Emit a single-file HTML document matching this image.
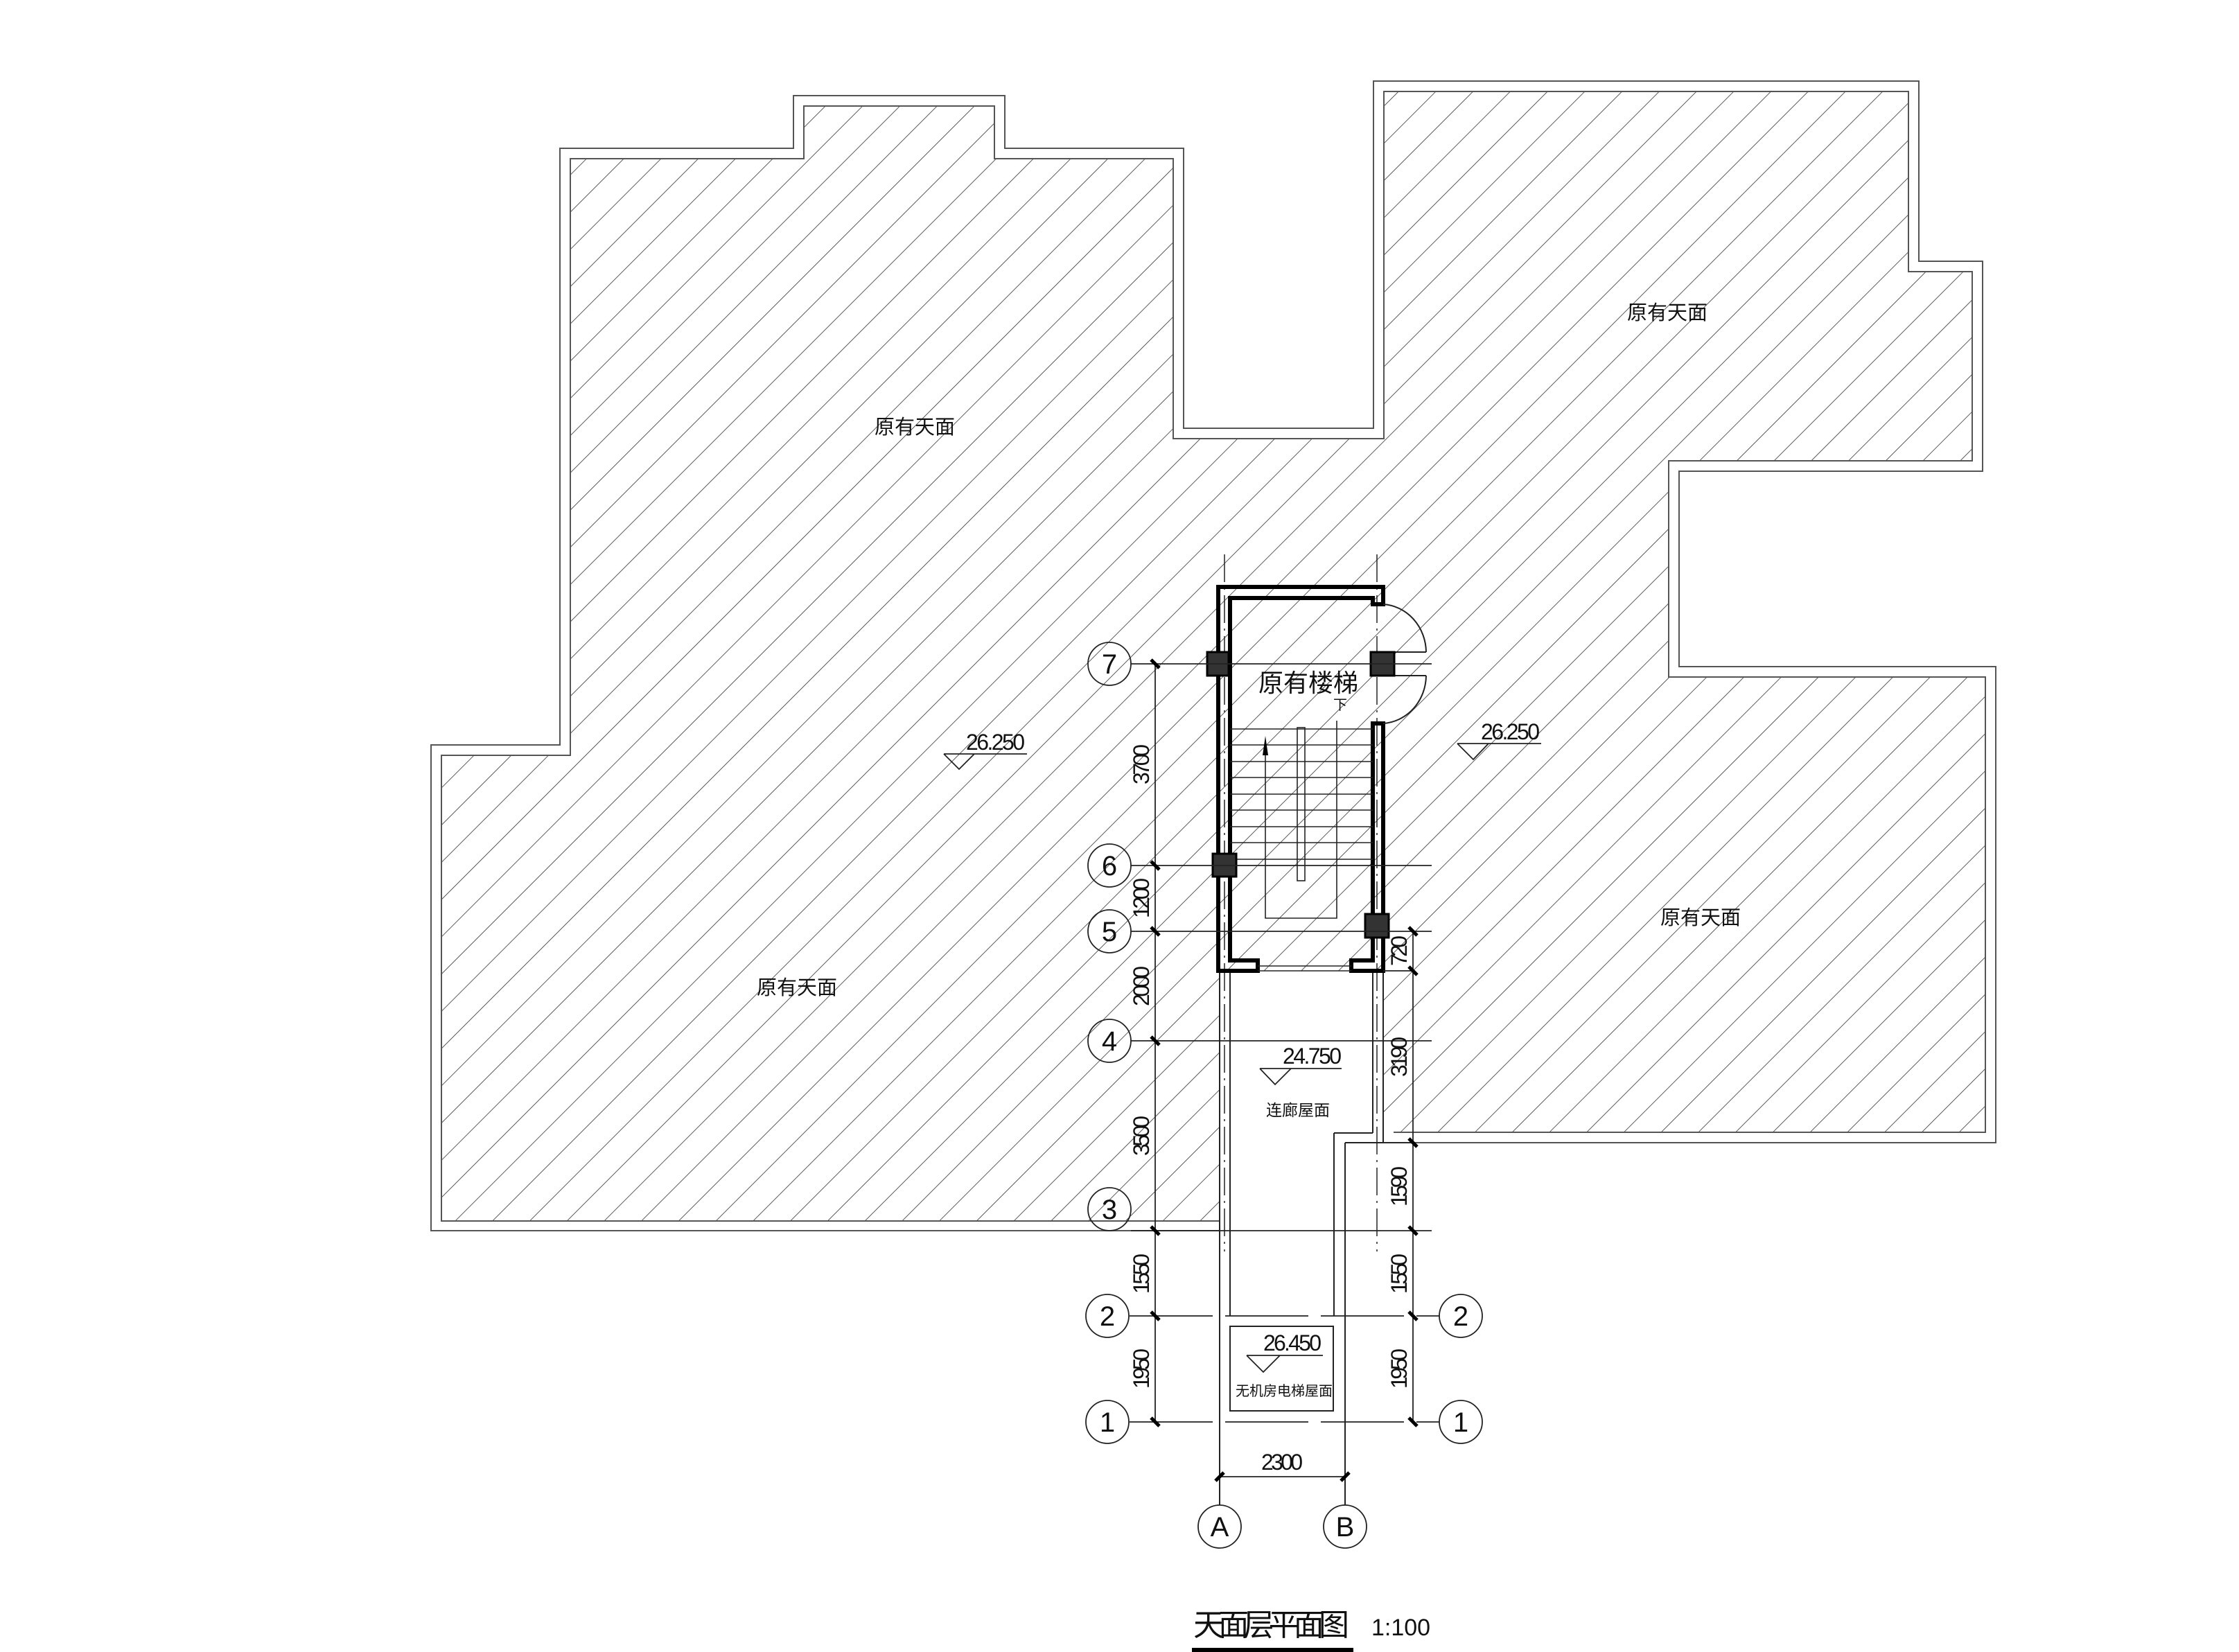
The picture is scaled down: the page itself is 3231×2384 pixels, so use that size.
<!DOCTYPE html>
<html><head><meta charset="utf-8"><style>
html,body{margin:0;padding:0;background:#fff}
svg{display:block}
text{font-family:"Liberation Sans","Noto Sans CJK SC",sans-serif;fill:#111}
</style></head><body>
<svg width="3231" height="2384" viewBox="0 0 3231 2384" xmlns="http://www.w3.org/2000/svg">
<defs>
<pattern id="h" patternUnits="userSpaceOnUse" width="38" height="38" patternTransform="rotate(45)">
<line x1="0" y1="0" x2="0" y2="38" stroke="#333" stroke-width="1.6"/>
</pattern>
<clipPath id="cp"><path d="M637,1762 L637,1090 L823,1090 L823,229 L1160,229 L1160,153 L1435,153 L1435,229 L1693,229 L1693,633 L1997,633 L1997,132 L2754,132 L2754,392 L2846,392 L2846,665 L2408,665 L2408,977 L2865,977 L2865,1634 L1996,1634 L1996,1401 L1760,1401 L1760,1762 Z"/></clipPath>
</defs>
<rect width="3231" height="2384" fill="#fff"/>
<rect x="600" y="100" width="2300" height="1700" fill="url(#h)" clip-path="url(#cp)"/>
<g fill="none" stroke="#555" stroke-width="2">
<path d="M1760,1776 L622,1776 L622,1075 L808,1075 L808,214 L1145,214 L1145,138 L1450,138 L1450,214 L1708,214 L1708,618 L1982,618 L1982,117 L2769,117 L2769,377 L2861,377 L2861,680 L2423,680 L2423,962 L2880,962 L2880,1649 L1996,1649"/>
<path d="M1760,1762 L637,1762 L637,1090 L823,1090 L823,229 L1160,229 L1160,153 L1435,153 L1435,229 L1693,229 L1693,633 L1997,633 L1997,132 L2754,132 L2754,392 L2846,392 L2846,665 L2408,665 L2408,977 L2865,977 L2865,1634 L2011,1634"/>
</g>
<g stroke="#222" stroke-width="2" fill="none">
<line x1="1760" y1="1401" x2="1760" y2="2172"/>
<line x1="1775" y1="1401" x2="1775" y2="1899"/>
<line x1="1981" y1="1401" x2="1981" y2="1635"/>
<line x1="1996" y1="1401" x2="1996" y2="1649"/>
<line x1="1925" y1="1635" x2="1981" y2="1635"/>
<line x1="1941" y1="1649" x2="1996" y2="1649"/>
<line x1="1925" y1="1635" x2="1925" y2="1899"/>
<line x1="1941" y1="1649" x2="1941" y2="2172"/>
<line x1="1767" y1="800" x2="1767" y2="1806" stroke-dasharray="40,8,3,8" stroke-width="1.5"/>
<line x1="1987" y1="800" x2="1987" y2="1806" stroke-dasharray="40,8,3,8" stroke-width="1.5"/>
<rect x="1775" y="1914" width="149" height="122"/>
</g>
<g fill="none" stroke="#000" stroke-width="6">
<path d="M1996,872 L1996,847 L1758,847 L1758,1401 L1815,1401 L1815,1386 L1775,1386 L1775,863 L1981,863 L1981,872 Z"/>
<path d="M1996,1044 L1996,1401 L1950,1401 L1950,1386 L1981,1386 L1981,1044 Z"/>
</g>
<line x1="1815" y1="1394" x2="1950" y2="1394" stroke="#222" stroke-width="1.5"/>
<line x1="1815" y1="1401" x2="1950" y2="1401" stroke="#222" stroke-width="1.5"/>
<g fill="none" stroke="#222" stroke-width="2">
<path d="M1996,872 A66,70 0 0 1 2058,941"/>
<line x1="1996" y1="941" x2="2058" y2="941"/>
<path d="M1996,1044 A66,70 0 0 0 2058,975"/>
<line x1="1996" y1="975" x2="2058" y2="975"/>
</g>
<g stroke="#222" stroke-width="1.6" fill="none">
<line x1="1775" y1="1052" x2="1981" y2="1052"/>
<line x1="1775" y1="1075" x2="1981" y2="1075"/>
<line x1="1775" y1="1099" x2="1981" y2="1099"/>
<line x1="1775" y1="1122" x2="1981" y2="1122"/>
<line x1="1775" y1="1146" x2="1981" y2="1146"/>
<line x1="1775" y1="1169" x2="1981" y2="1169"/>
<line x1="1775" y1="1193" x2="1981" y2="1193"/>
<line x1="1775" y1="1216" x2="1981" y2="1216"/>
<line x1="1775" y1="1240" x2="1981" y2="1240"/>
<rect x="1872" y="1050" width="11" height="221"/>
<path d="M1826,1090 L1826,1325 L1929,1325 L1929,1040"/>
</g>
<path d="M1826,1062 L1822,1090 L1830,1090 Z" fill="#000"/>
<g fill="#333" stroke="#000" stroke-width="3">
<rect x="1742" y="941" width="31" height="34"/>
<rect x="1978" y="941" width="34" height="34"/>
<rect x="1750" y="1232" width="34" height="33"/>
<rect x="1970" y="1319" width="34" height="34"/>
</g>
<g stroke="#222" stroke-width="1.8" fill="none">
<line x1="1632" y1="958" x2="2066" y2="958"/>
<line x1="1632" y1="1249" x2="2066" y2="1249"/>
<line x1="1632" y1="1344" x2="2066" y2="1344"/>
<line x1="1632" y1="1502" x2="2066" y2="1502"/>
<line x1="1632" y1="1776" x2="2066" y2="1776"/>
<line x1="1630" y1="1899" x2="2077" y2="1899" stroke-dasharray="120,18"/>
<line x1="1630" y1="2052" x2="2077" y2="2052" stroke-dasharray="120,18"/>
<line x1="1667" y1="958" x2="1667" y2="2052"/>
<line x1="2039" y1="1344" x2="2039" y2="2052"/>
<line x1="2039" y1="1401" x2="1996" y2="1401"/>
<line x1="2039" y1="1649" x2="1996" y2="1649"/>
<line x1="1760" y1="2131" x2="1941" y2="2131"/>
<line x1="1760" y1="2131" x2="1760" y2="2172"/>
<line x1="1941" y1="2131" x2="1941" y2="2172"/>
<circle cx="1601" cy="958" r="31"/>
<circle cx="1601" cy="1249" r="31"/>
<circle cx="1601" cy="1344" r="31"/>
<circle cx="1601" cy="1502" r="31"/>
<circle cx="1601" cy="1745" r="31"/>
<circle cx="1598" cy="1899" r="31"/>
<circle cx="1598" cy="2052" r="31"/>
<circle cx="2108" cy="1899" r="31"/>
<circle cx="2108" cy="2052" r="31"/>
<circle cx="1760" cy="2203" r="31"/>
<circle cx="1941" cy="2203" r="31"/>
</g>
<g stroke="#000" stroke-width="5">
<line x1="1661" y1="952" x2="1673" y2="964"/>
<line x1="1661" y1="1243" x2="1673" y2="1255"/>
<line x1="1661" y1="1338" x2="1673" y2="1350"/>
<line x1="1661" y1="1496" x2="1673" y2="1508"/>
<line x1="1661" y1="1770" x2="1673" y2="1782"/>
<line x1="1661" y1="1893" x2="1673" y2="1905"/>
<line x1="1661" y1="2046" x2="1673" y2="2058"/>
<line x1="2033" y1="1338" x2="2045" y2="1350"/>
<line x1="2033" y1="1395" x2="2045" y2="1407"/>
<line x1="2033" y1="1643" x2="2045" y2="1655"/>
<line x1="2033" y1="1770" x2="2045" y2="1782"/>
<line x1="2033" y1="1893" x2="2045" y2="1905"/>
<line x1="2033" y1="2046" x2="2045" y2="2058"/>
<line x1="1754" y1="2137" x2="1766" y2="2125"/>
<line x1="1935" y1="2137" x2="1947" y2="2125"/>
</g>
<g font-size="40" text-anchor="middle" style="font-family:'Liberation Serif',serif">
<text x="1601" y="972">7</text>
<text x="1601" y="1263">6</text>
<text x="1601" y="1358">5</text>
<text x="1601" y="1516">4</text>
<text x="1601" y="1759">3</text>
<text x="1598" y="1913">2</text>
<text x="1598" y="2066">1</text>
<text x="2108" y="1913">2</text>
<text x="2108" y="2066">1</text>
<text x="1760" y="2217">A</text>
<text x="1941" y="2217">B</text>
</g>
<g font-size="32" text-anchor="middle">
<text transform="translate(1658,1103) rotate(-90)" textLength="58">3700</text>
<text transform="translate(1658,1296) rotate(-90)" textLength="58">1200</text>
<text transform="translate(1658,1423) rotate(-90)" textLength="58">2000</text>
<text transform="translate(1658,1639) rotate(-90)" textLength="58">3500</text>
<text transform="translate(1658,1838) rotate(-90)" textLength="58">1550</text>
<text transform="translate(1658,1975) rotate(-90)" textLength="58">1950</text>
<text transform="translate(2030,1372) rotate(-90)" textLength="44">720</text>
<text transform="translate(2030,1525) rotate(-90)" textLength="58">3190</text>
<text transform="translate(2030,1712) rotate(-90)" textLength="58">1590</text>
<text transform="translate(2030,1838) rotate(-90)" textLength="58">1550</text>
<text transform="translate(2030,1975) rotate(-90)" textLength="58">1950</text>
<text x="1850" y="2121" textLength="60">2300</text>
</g>
<g fill="none" stroke="#222" stroke-width="1.8">
<path d="M2103,1073 L2224,1073 M2103,1073 L2126,1096 L2148,1073"/>
<path d="M1362,1088 L1482,1088 M1362,1088 L1384,1110 L1406,1088"/>
<path d="M1818,1542 L1936,1542 M1818,1542 L1840,1565 L1863,1542"/>
<path d="M1799,1956 L1909,1956 M1799,1956 L1823,1980 L1847,1956"/>
</g>
<g font-size="32">
<text x="2137" y="1067" textLength="85">26.250</text>
<text x="1394" y="1082" textLength="85">26.250</text>
<text x="1851" y="1535" textLength="85">24.750</text>
<text x="1823" y="1949" textLength="84">26.450</text>
</g>
<g font-size="29">
<text x="1262" y="626">原有天面</text>
<text x="2348" y="461">原有天面</text>
<text x="2396" y="1334">原有天面</text>
<text x="1092" y="1435">原有天面</text>
</g>
<text x="1816" y="998" font-size="36">原有楼梯</text>
<text x="1924" y="1024" font-size="20">下</text>
<text x="1827" y="1610" font-size="23">连廊屋面</text>
<text x="1783" y="2014" font-size="20">无机房电梯屋面</text>
<text x="1722" y="2360" font-size="44" textLength="225">天面层平面图</text>
<text x="1979" y="2360" font-size="34">1:100</text>
<rect x="1720" y="2378" width="233" height="6" fill="#000"/>
</svg>
</body></html>
